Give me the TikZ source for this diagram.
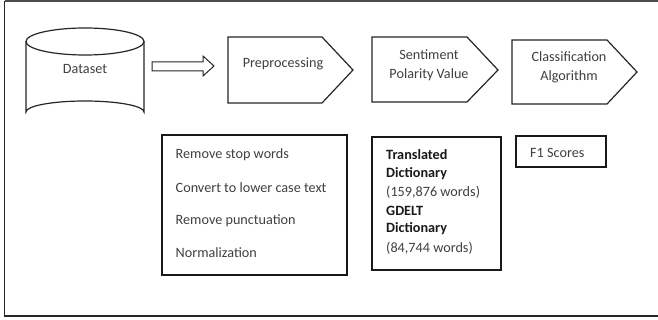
\documentclass[tikz,border=0pt]{standalone}
\usepackage{fontspec}
\setmainfont{Carlito}
\begin{document}
\begin{tikzpicture}[x=1pt,y=-1pt,
  line/.style={draw=black!85,line width=1.3pt},
  stage/.style={line width=1.2pt,draw=black!85},
  txt/.style={font=\fontsize{14.2}{17}\selectfont,text=black!75,inner sep=0pt},
  btxt/.style={font=\fontsize{14.2}{17}\selectfont\bfseries,text=black!90,inner sep=0pt,anchor=west},
  ltxt/.style={txt,anchor=west}]
\useasboundingbox (0,0) rectangle (658,320);
\fill[white] (0,0) rectangle (658,320);
% outer frame
\draw[line width=1.6pt,draw=black!85] (4.5,1) -- (4.5,315.7) -- (662,315.7);
\draw[line width=1.2pt,draw=black!70] (4.5,1) -- (662,1);
% cylinder
\draw[stage] (26,41.5) -- (26,112) arc[start angle=180,end angle=360,x radius=59,y radius=11] -- (144,41.5);
\draw[stage] (85,41.5) ellipse[x radius=59,y radius=13.5];
\node[txt] (ds) at (85,69) {Dataset};
% hollow arrow
\coordinate (ha) at (152,66);
\draw[line width=1pt,draw=black!85] (152,62) -- (203,62) -- (203,56) -- (214,66) -- (203,76) -- (203,71) -- (152,71) -- cycle;
% pentagons
\draw[stage] (228,37) -- (322,37) -- (353,70) -- (322,103) -- (228,103) -- cycle;
\node[txt] (pre) at (283,64) {Preprocessing};
\draw[stage] (372,37) -- (467,37) -- (498,70) -- (467,102) -- (372,102) -- cycle;
\node[txt] (sp1) at (429,55) {Sentiment};
\node[txt] (sp2) at (429,75) {Polarity Value};
\draw[stage] (512,40) -- (607,40) -- (637,72) -- (607,104) -- (512,104) -- cycle;
\node[txt] (ca1) at (569,57) {Classification};
\node[txt] (ca2) at (569,77) {Algorithm};
% boxes
\draw[line width=1.8pt,draw=black!90] (162,135) rectangle (347,275);
\node[ltxt] (r1) at (175.5,155) {Remove stop words};
\node[ltxt] (r2) at (175.5,187.5) {Convert to lower case text};
\node[ltxt] (r3) at (175.5,220.5) {Remove punctuation};
\node[ltxt] (r4) at (175.5,253) {Normalization};
\draw[line width=1.8pt,draw=black!90] (372,137) rectangle (501,270);
\node[btxt] (d1) at (386,155) {Translated};
\node[btxt] (d2) at (386,173.5) {Dictionary};
\node[ltxt] (d3) at (386,192) {(159,876 words)};
\node[btxt] (d4) at (386,210.5) {GDELT};
\node[btxt] (d5) at (386,229) {Dictionary};
\node[ltxt] (d6) at (386,248) {(84,744 words)};
\draw[line width=1.8pt,draw=black!90] (516,136) rectangle (606,167);
\node[ltxt] (f1) at (530,153) {F1 Scores};
\end{tikzpicture}
\end{document}
